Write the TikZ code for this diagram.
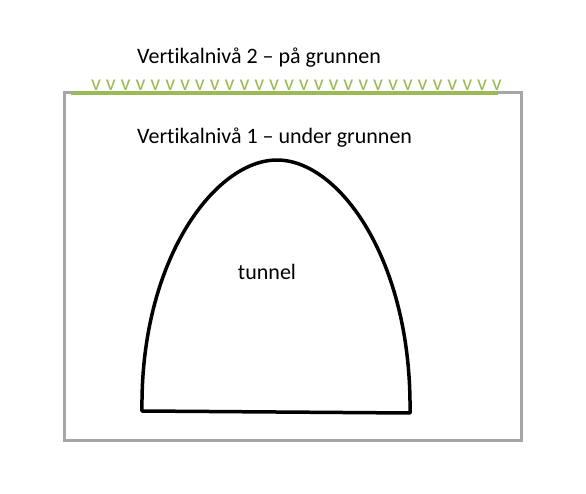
\documentclass[tikz,border=0pt]{standalone}
\usepackage{fontspec}
\setmainfont[Ligatures={NoCommon}]{Carlito}
\begin{document}
\begin{tikzpicture}[x=1pt,y=-1pt,
  lbl/.style={font=\fontsize{22}{26}\selectfont, inner sep=0pt, anchor=west},
  grass/.style={text=grassgreen, font=\fontsize{22}{24}\selectfont, inner sep=0pt, anchor=base},
  box/.style={draw=boxgray, line width=3pt},
  tunnelline/.style={draw=black, line width=3.5pt, line join=round}]
\definecolor{grassgreen}{HTML}{9BBB59}
\definecolor{boxgray}{HTML}{A6A6A6}
\useasboundingbox (0,0) rectangle (586,494);
\draw[box] (64,93) rectangle (521,440);
\draw[draw=grassgreen, line width=4pt] (71,93) -- (498,93);
\foreach \i in {0,...,27} {
  \node[grass] (v\i) at ({96+\i*14.85},91) {v};
}
\node[lbl] (lvl2) at (137,58) {Vertikalnivå 2 – på grunnen};
\node[lbl] (lvl1) at (137,138) {Vertikalnivå 1 – under grunnen};
\draw[tunnelline] (142,411) .. controls (140,260) and (215,160) .. (277,160)
  .. controls (339,160) and (412,260) .. (410,413) -- cycle;
\node[lbl, anchor=center] (tun) at (267,272) {tunnel};
\end{tikzpicture}
\end{document}
